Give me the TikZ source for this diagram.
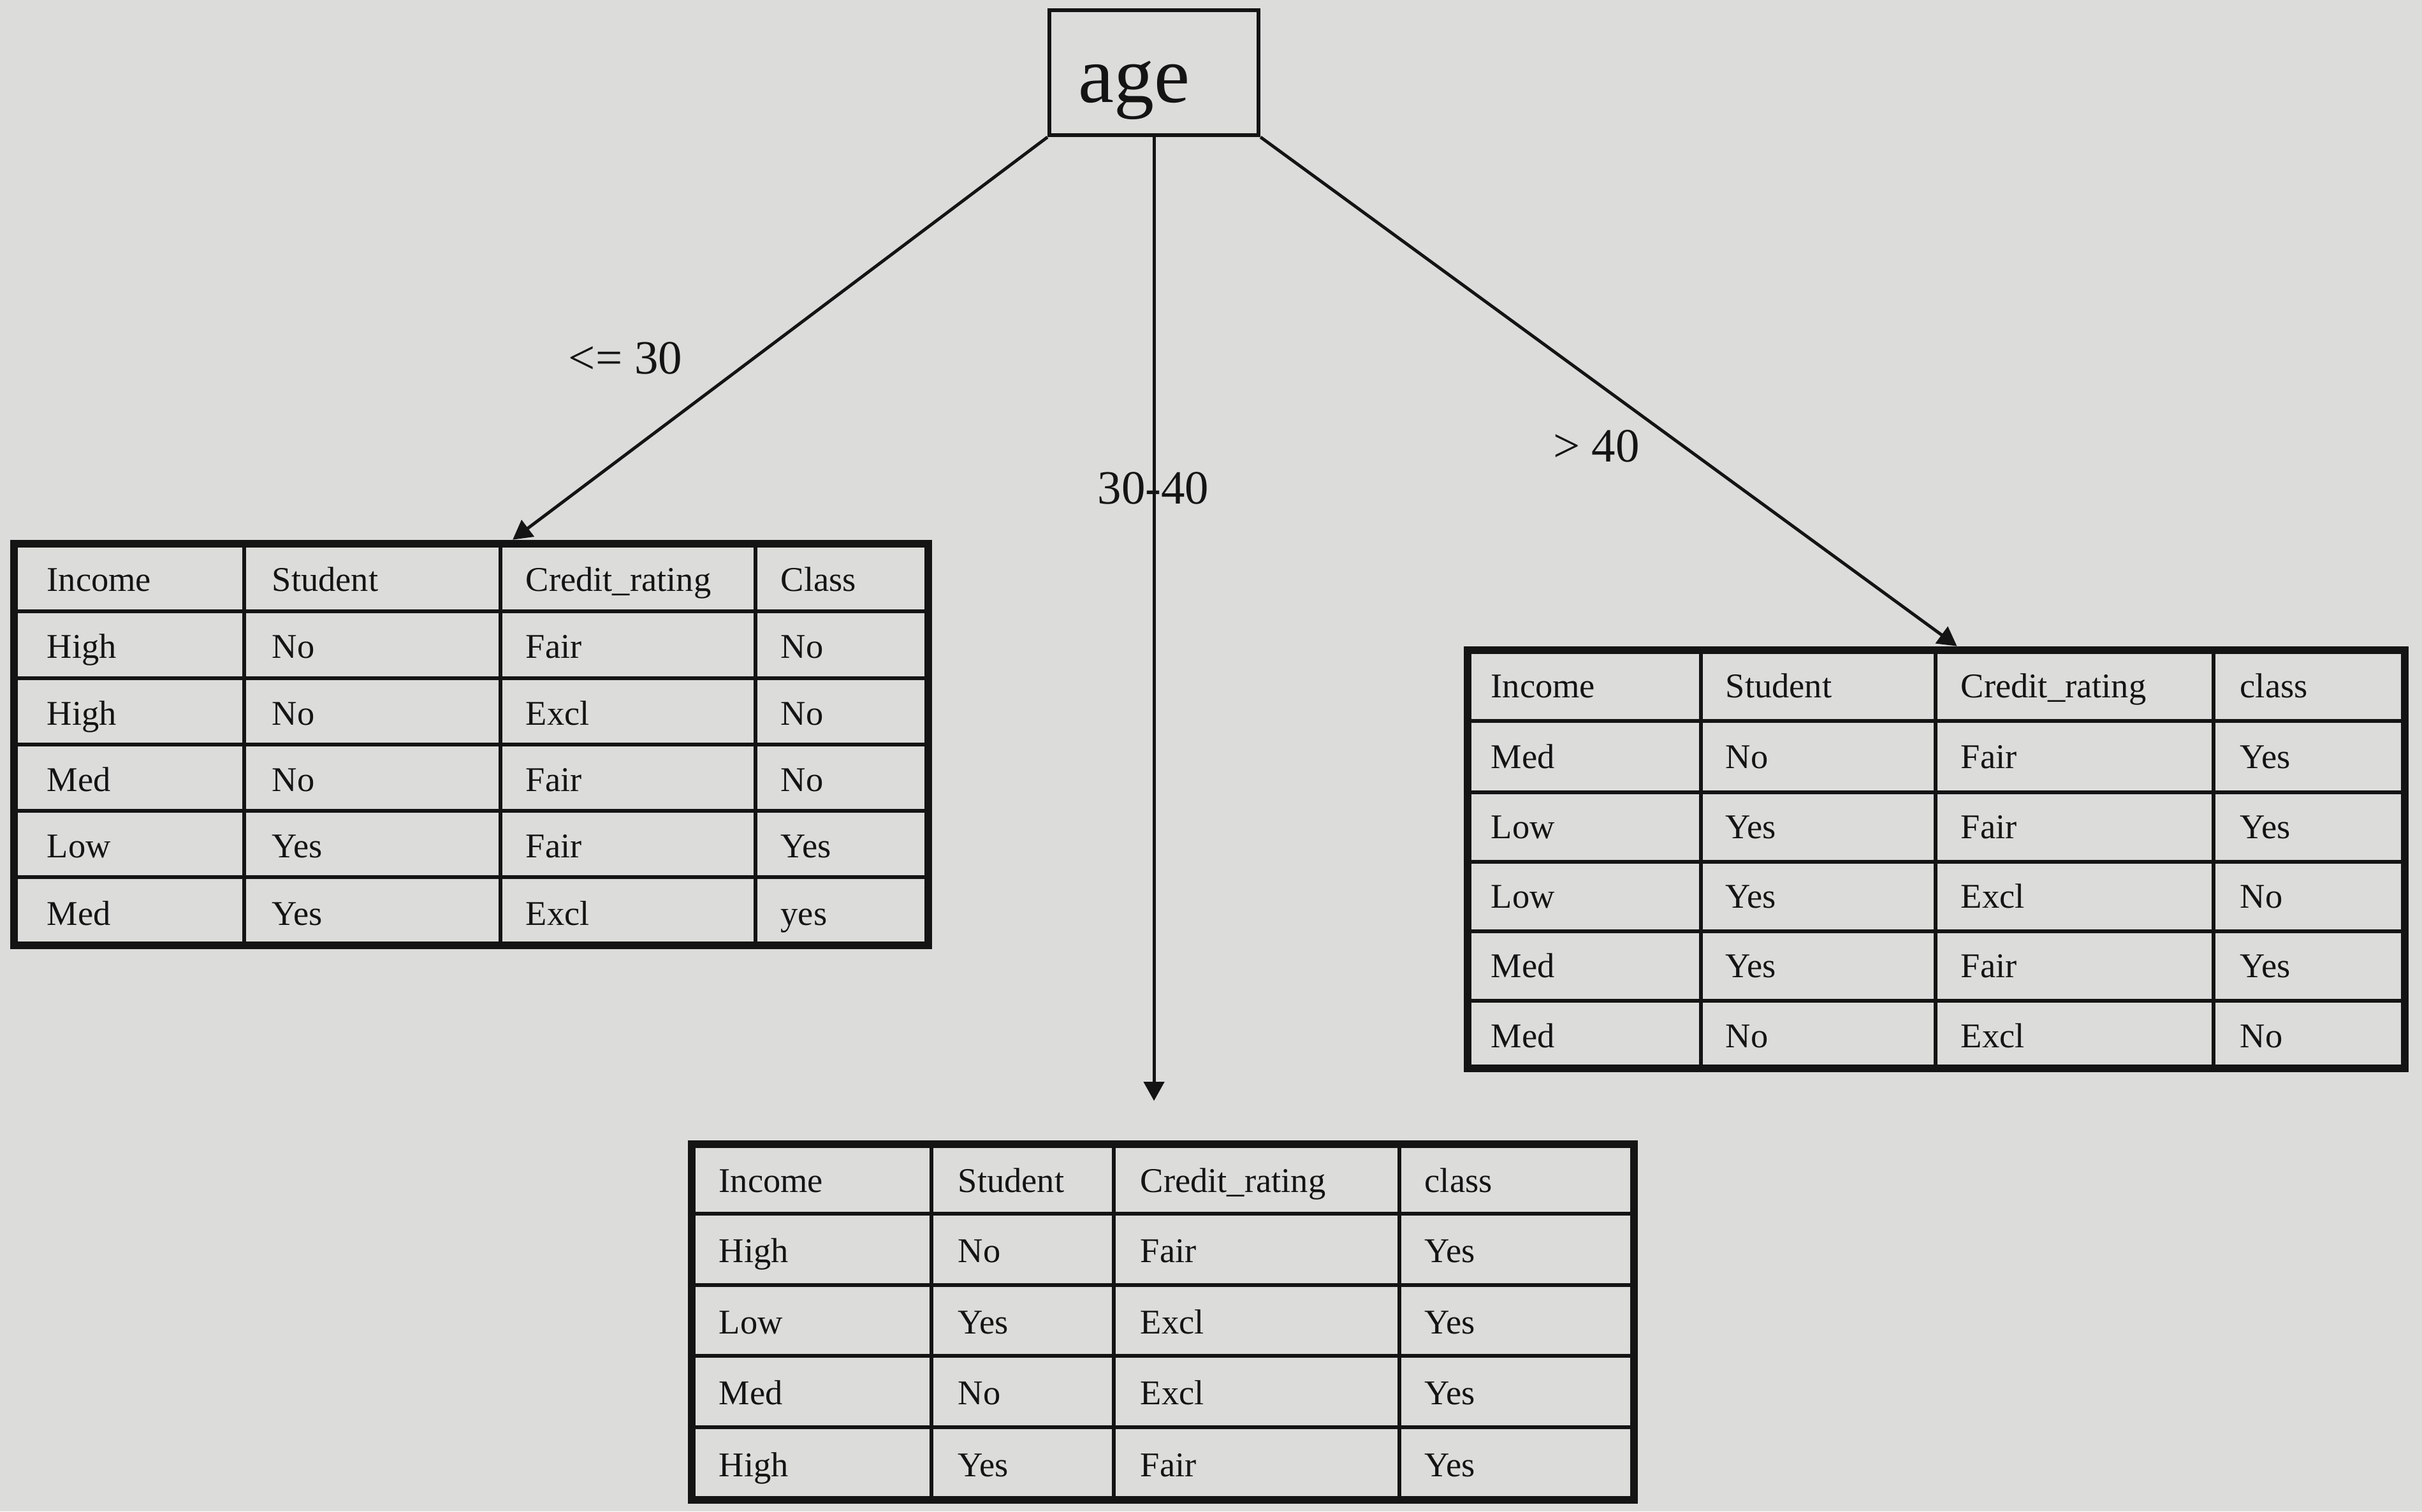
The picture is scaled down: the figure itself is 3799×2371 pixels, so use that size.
\documentclass[tikz,border=0pt]{standalone}
\usepackage{fontspec}
\setmainfont{Liberation Serif}
\usetikzlibrary{arrows.meta,fit,calc}
\definecolor{paper}{RGB}{220,221,218}
\definecolor{ink}{RGB}{20,20,20}
\begin{document}
\begin{tikzpicture}[x=0.01cm,y=-0.01cm,
  every node/.style={text=ink},
  tbl/.style={draw=ink, line width=3.6pt, inner sep=0pt},
  hline/.style={draw=ink, line width=1.6pt},
  vline/.style={draw=ink, line width=1.6pt},
  cell/.style={anchor=base west, inner sep=0pt, font=\fontsize{15.5pt}{18pt}\selectfont},
  lbl/.style={inner sep=0pt, font=\fontsize{21.3pt}{25pt}\selectfont},
  conn/.style={draw=ink, line width=1.4pt, -{Triangle[length=0.3cm,width=0.32cm]}},
  agebox/.style={draw=ink, line width=1.7pt, minimum width=3.28cm, minimum height=1.96cm,
    inner xsep=0.45cm, inner ysep=0pt, text width=2.38cm, align=left,
    text height=1.2cm, text depth=0.28cm, font=\fontsize{35.85pt}{40pt}\selectfont}
]
\fill[paper] (0,0) rectangle (3799,2371);
\useasboundingbox (0,0) rectangle (3799,2371);

% root
\node[agebox, anchor=north west] (age) at (1643,13) {age};

% tables
\node[tbl, fit={(22,853) (1456,1483)}] (tL) {};
\node[tbl, fit={(2302,1020) (3772,1676)}] (tR) {};
\node[tbl, fit={(1085,1795) (2563,2353)}] (tB) {};

% left table grid
\foreach \y in {959,1064,1168,1272,1376}
  \draw[hline] (tL.west |- 0,\y) -- (tL.east |- 0,\y);
\foreach \x in {383,785,1185}
  \draw[vline] (\x,0 |- tL.north) -- (\x,0 |- tL.south);
% right table grid
\foreach \y in {1131,1243,1352,1461,1570}
  \draw[hline] (tR.west |- 0,\y) -- (tR.east |- 0,\y);
\foreach \x in {2668,3036,3472}
  \draw[vline] (\x,0 |- tR.north) -- (\x,0 |- tR.south);
% bottom table grid
\foreach \y in {1904,2016,2127,2239}
  \draw[hline] (tB.west |- 0,\y) -- (tB.east |- 0,\y);
\foreach \x in {1461,1747,2195}
  \draw[vline] (\x,0 |- tB.north) -- (\x,0 |- tB.south);

% left table text
\foreach \row [count=\r] in {
  {Income,Student,Credit\_rating,Class},
  {High,No,Fair,No},
  {High,No,Excl,No},
  {Med,No,Fair,No},
  {Low,Yes,Fair,Yes},
  {Med,Yes,Excl,yes}} {
  \foreach \txt [count=\c] in \row {
    \pgfmathsetmacro\xx{{73,426,824,1224}[\c-1]}
    \pgfmathsetmacro\yy{{927,1032,1137,1241,1345,1451}[\r-1]}
    \node[cell] (tL-\r-\c) at (\xx,\yy) {\txt};
  }
}
% right table text
\foreach \row [count=\r] in {
  {Income,Student,Credit\_rating,class},
  {Med,No,Fair,Yes},
  {Low,Yes,Fair,Yes},
  {Low,Yes,Excl,No},
  {Med,Yes,Fair,Yes},
  {Med,No,Excl,No}} {
  \foreach \txt [count=\c] in \row {
    \pgfmathsetmacro\xx{{2338,2706,3075,3513}[\c-1]}
    \pgfmathsetmacro\yy{{1094,1205,1315,1424,1533,1643}[\r-1]}
    \node[cell] (tR-\r-\c) at (\xx,\yy) {\txt};
  }
}
% bottom table text
\foreach \row [count=\r] in {
  {Income,Student,Credit\_rating,class},
  {High,No,Fair,Yes},
  {Low,Yes,Excl,Yes},
  {Med,No,Excl,Yes},
  {High,Yes,Fair,Yes}} {
  \foreach \txt [count=\c] in \row {
    \pgfmathsetmacro\xx{{1127,1502,1788,2234}[\c-1]}
    \pgfmathsetmacro\yy{{1870,1980,2092,2203,2316}[\r-1]}
    \node[cell] (tB-\r-\c) at (\xx,\yy) {\txt};
  }
}

% connectors
\coordinate (mEnd) at (age.south |- 0,1727);
\draw[conn] (age.south west) -- ($(tL.north west)!0.545!(tL.north east)$);
\draw[conn] (age.south) -- (mEnd);
\draw[conn] (age.south east) -- ($(tR.north west)!0.522!(tR.north east)$);

% edge labels
\node[lbl] (l1) at (981,562) {<= 30};
\node[lbl] (l2) at (1809,766) {30-40};
\node[lbl] (l3) at (2504,700) {> 40};
\end{tikzpicture}
\end{document}
